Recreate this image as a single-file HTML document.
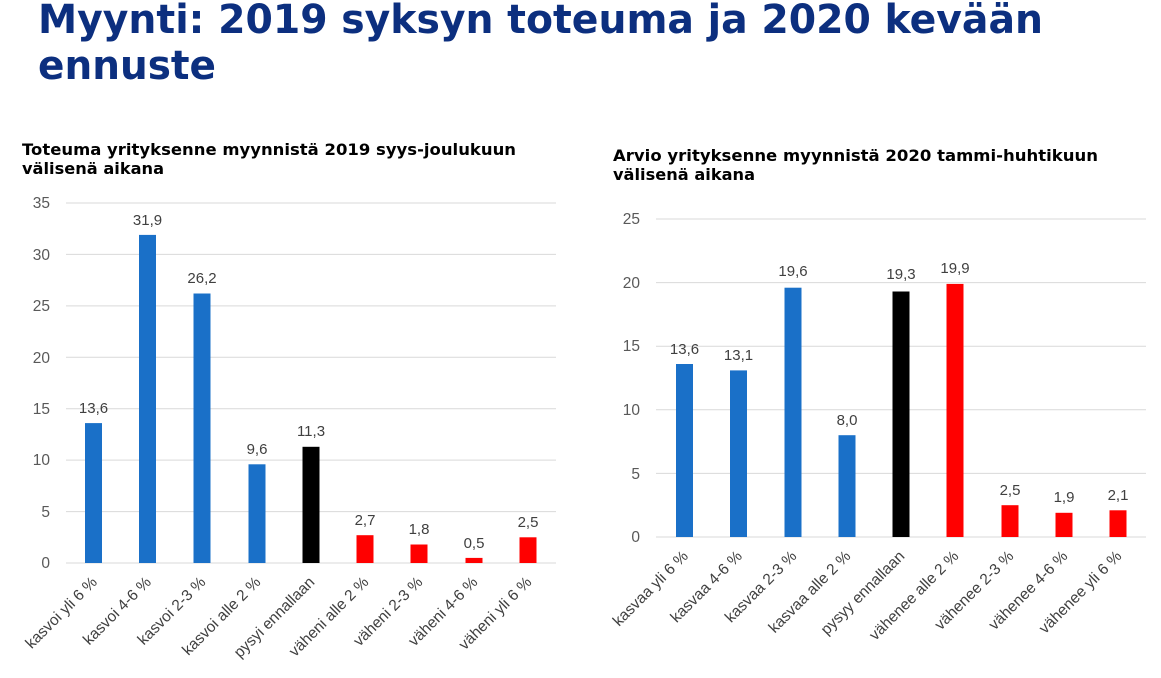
<!DOCTYPE html>
<html><head><meta charset="utf-8"><style>
body{margin:0;background:#fff;width:1161px;height:673px;overflow:hidden}
svg{font-family:"Liberation Sans","DejaVu Sans",sans-serif}
</style></head><body>
<svg width="1161" height="673" viewBox="0 0 1161 673">
<text x="38" y="33" font-size="40" font-weight="bold" fill="#0c2f7f" font-family="DejaVu Sans, sans-serif" textLength="1005" lengthAdjust="spacingAndGlyphs">Myynti: 2019 syksyn toteuma ja 2020 kevään</text>
<text x="38" y="79" font-size="40" font-weight="bold" fill="#0c2f7f" font-family="DejaVu Sans, sans-serif" textLength="178" lengthAdjust="spacingAndGlyphs">ennuste</text>
<g font-family="DejaVu Sans, sans-serif" font-weight="bold" font-size="16" fill="#000">
<text x="22" y="155" textLength="494" lengthAdjust="spacingAndGlyphs">Toteuma yrityksenne myynnistä 2019 syys-joulukuun</text>
<text x="22" y="174" textLength="142" lengthAdjust="spacingAndGlyphs">välisenä aikana</text>
<text x="613" y="161" textLength="485" lengthAdjust="spacingAndGlyphs">Arvio  yrityksenne myynnistä 2020 tammi-huhtikuun</text>
<text x="613" y="180" textLength="142" lengthAdjust="spacingAndGlyphs">välisenä aikana</text>
</g>
<g stroke="#d9d9d9" stroke-width="1">
<line x1="66" x2="556" y1="563" y2="563"/><line x1="66" x2="556" y1="511.6" y2="511.6"/><line x1="66" x2="556" y1="460.1" y2="460.1"/><line x1="66" x2="556" y1="408.7" y2="408.7"/><line x1="66" x2="556" y1="357.3" y2="357.3"/><line x1="66" x2="556" y1="305.9" y2="305.9"/><line x1="66" x2="556" y1="254.4" y2="254.4"/><line x1="66" x2="556" y1="203" y2="203"/>
<line x1="656" x2="1146" y1="537" y2="537"/><line x1="656" x2="1146" y1="473.4" y2="473.4"/><line x1="656" x2="1146" y1="409.8" y2="409.8"/><line x1="656" x2="1146" y1="346.2" y2="346.2"/><line x1="656" x2="1146" y1="282.6" y2="282.6"/><line x1="656" x2="1146" y1="219" y2="219"/>
</g>
<g font-size="15.5" fill="#595959" text-anchor="end">
<text x="50" y="568">0</text><text x="50" y="517">5</text><text x="50" y="465">10</text><text x="50" y="414">15</text><text x="50" y="363">20</text><text x="50" y="311">25</text><text x="50" y="260">30</text><text x="50" y="208">35</text>
<text x="640" y="542">0</text><text x="640" y="479">5</text><text x="640" y="415">10</text><text x="640" y="351">15</text><text x="640" y="288">20</text><text x="640" y="224">25</text>
</g>
<g>
<rect x="85" y="423.1" width="17" height="139.9" fill="#1a70c8"/>
<rect x="139" y="234.9" width="17" height="328.1" fill="#1a70c8"/>
<rect x="193.5" y="293.5" width="17" height="269.5" fill="#1a70c8"/>
<rect x="248.5" y="464.3" width="17" height="98.7" fill="#1a70c8"/>
<rect x="302.5" y="446.8" width="17" height="116.2" fill="#000"/>
<rect x="356.5" y="535.2" width="17" height="27.8" fill="#f00"/>
<rect x="410.5" y="544.5" width="17" height="18.5" fill="#f00"/>
<rect x="465.5" y="557.9" width="17" height="5.1" fill="#f00"/>
<rect x="519.5" y="537.3" width="17" height="25.7" fill="#f00"/>
<rect x="676" y="364" width="17" height="173" fill="#1a70c8"/>
<rect x="730" y="370.4" width="17" height="166.6" fill="#1a70c8"/>
<rect x="784.5" y="287.7" width="17" height="249.3" fill="#1a70c8"/>
<rect x="838.5" y="435.2" width="17" height="101.8" fill="#1a70c8"/>
<rect x="892.5" y="291.5" width="17" height="245.5" fill="#000"/>
<rect x="946.5" y="283.9" width="17" height="253.1" fill="#f00"/>
<rect x="1001.5" y="505.2" width="17" height="31.8" fill="#f00"/>
<rect x="1055.5" y="512.8" width="17" height="24.2" fill="#f00"/>
<rect x="1109.5" y="510.3" width="17" height="26.7" fill="#f00"/>
</g>
<g font-size="15" fill="#404040" text-anchor="middle">
<text x="93.5" y="413">13,6</text><text x="147.5" y="225">31,9</text><text x="202" y="283">26,2</text><text x="257" y="454">9,6</text><text x="311" y="436">11,3</text><text x="365" y="525">2,7</text><text x="419" y="534">1,8</text><text x="474" y="548">0,5</text><text x="528" y="527">2,5</text>
<text x="684.5" y="354">13,6</text><text x="738.5" y="360">13,1</text><text x="793" y="276">19,6</text><text x="847" y="425">8,0</text><text x="901" y="279">19,3</text><text x="955" y="273">19,9</text><text x="1010" y="495">2,5</text><text x="1064" y="502">1,9</text><text x="1118" y="500">2,1</text>
</g>
<g font-size="15.5" fill="#404040" text-anchor="end">
<text transform="translate(98,583) rotate(-45)">kasvoi yli 6 %</text>
<text transform="translate(152,583) rotate(-45)">kasvoi 4-6 %</text>
<text transform="translate(206.5,583) rotate(-45)">kasvoi 2-3 %</text>
<text transform="translate(261.5,583) rotate(-45)">kasvoi alle 2 %</text>
<text transform="translate(315.5,583) rotate(-45)">pysyi ennallaan</text>
<text transform="translate(369.5,583) rotate(-45)">väheni alle 2 %</text>
<text transform="translate(423.5,583) rotate(-45)">väheni 2-3 %</text>
<text transform="translate(478.5,583) rotate(-45)">väheni 4-6 %</text>
<text transform="translate(532.5,583) rotate(-45)">väheni yli 6 %</text>
<text transform="translate(689,557) rotate(-45)">kasvaa yli 6 %</text>
<text transform="translate(743,557) rotate(-45)">kasvaa 4-6 %</text>
<text transform="translate(797.5,557) rotate(-45)">kasvaa 2-3 %</text>
<text transform="translate(851.5,557) rotate(-45)">kasvaa alle 2 %</text>
<text transform="translate(905.5,557) rotate(-45)">pysyy ennallaan</text>
<text transform="translate(959.5,557) rotate(-45)">vähenee alle 2 %</text>
<text transform="translate(1014.5,557) rotate(-45)">vähenee 2-3 %</text>
<text transform="translate(1068.5,557) rotate(-45)">vähenee 4-6 %</text>
<text transform="translate(1122.5,557) rotate(-45)">vähenee yli 6 %</text>
</g>
</svg>
</body></html>
